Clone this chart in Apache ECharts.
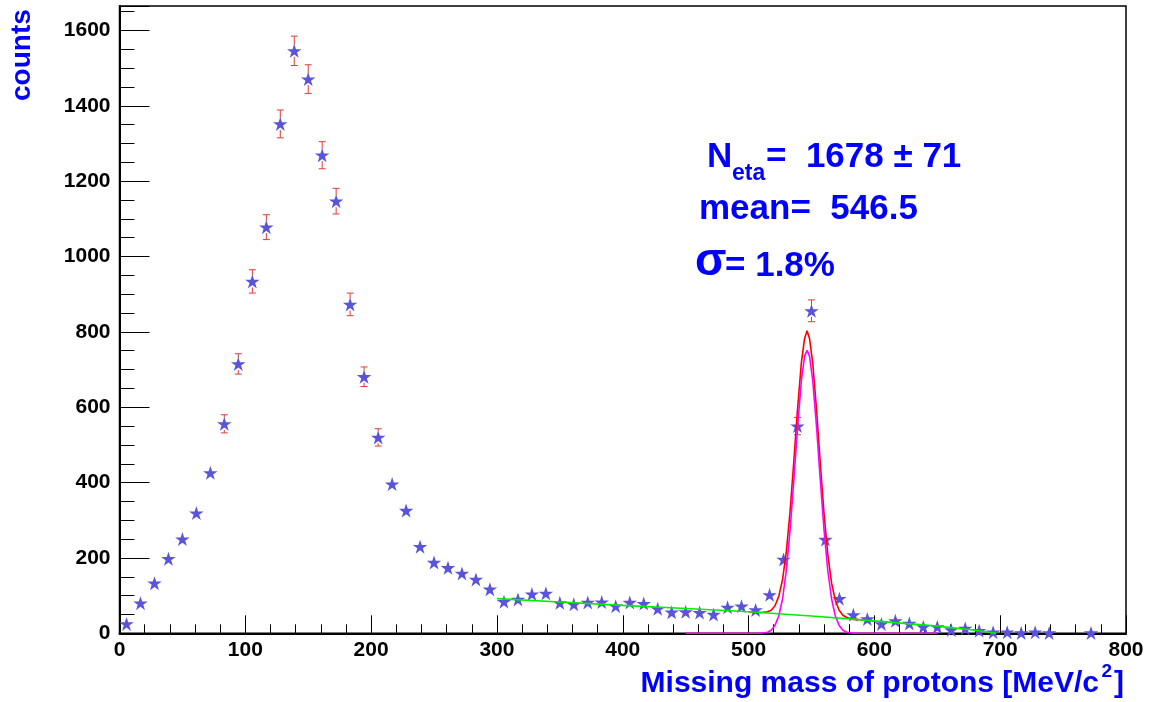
<!DOCTYPE html>
<html>
<head>
<meta charset="utf-8">
<script src="https://cdn.jsdelivr.net/npm/echarts@6/dist/echarts.min.js"></script>
<style>
html,body{margin:0;padding:0;background:#fff;}
#chart{width:1153px;height:702px;}
</style>
</head>
<body>
<div id="chart"></div>
<script>
// Histogram bin centres (MeV/c^2)
const massBins = [5.6, 16.7, 27.8, 38.9, 50, 61.1, 72.2, 83.3, 94.4, 105.6,
  116.7, 127.8, 138.9, 150, 161.1, 172.2, 183.3, 194.4, 205.6, 216.7,
  227.8, 238.9, 250, 261.1, 272.2, 283.3, 294.4, 305.6, 316.7, 327.8,
  338.9, 350, 361.1, 372.2, 383.3, 394.4, 405.6, 416.7, 427.8, 438.9,
  450, 461.1, 472.2, 483.3, 494.4, 505.6, 516.7, 527.8, 538.9, 550,
  561.1, 572.2, 583.3, 594.4, 605.6, 616.7, 627.8, 638.9, 650, 661.1,
  672.2, 683.3, 694.4, 705.6, 716.7, 727.8, 738.9, 750, 761.1, 772.2,
  783.3, 794.4];
// Counts per bin
const counts = [25, 80, 133, 198, 250, 319, 426, 556, 715, 934,
  1078, 1352, 1546, 1471, 1269, 1147, 873, 681, 520, 396,
  326, 230, 188, 174, 159, 143, 117, 84, 90, 104,
  106, 81, 77, 82, 83, 72, 82, 79, 65, 56,
  57, 55, 50, 69, 72, 62, 102, 196, 550, 856,
  249, 92, 49, 38, 25, 33, 26, 17, 17, 9,
  13, 7, 3, 3, 1, 3, 1, null, null, 1,
  null, null];
// Statistical errors per bin
const countErrors = [5, 9, 12, 14, 16, 18, 21, 24, 27, 31,
  33, 37, 39, 38, 36, 34, 30, 26, 23, 20,
  18, 15, 14, 13, 13, 12, 11, 9, 9, 10,
  10, 9, 9, 9, 9, 8, 9, 9, 8, 7,
  8, 7, 7, 8, 8, 8, 10, 14, 23, 29,
  16, 10, 7, 6, 5, 6, 5, 4, 4, 3,
  4, 3, 2, 2, 1, 2, 1, null, null, 1,
  null, null];
// Background fit (green)
const bgMass = [300, 350, 400, 450, 500, 550, 600, 650, 680, 697];
const bgCounts = [92, 83, 74, 66, 57, 46, 33, 19, 8, 0];
// Eta gaussian (magenta)
const etaMass = [450, 510, 515, 518, 521, 524, 527, 530, 533, 536, 539, 542, 544.5, 546.5, 548.5, 551, 554, 557, 560, 563, 566, 569, 572, 575, 578, 583, 650];
const etaCounts = [0, 0, 3, 8, 21, 46, 91, 166, 274, 408, 550, 671, 735, 751, 735, 671, 550, 408, 274, 166, 91, 46, 21, 8, 3, 0, 0];
// Total fit (red)
const totalMass = [500, 510, 515, 518, 521, 524, 527, 530, 533, 536, 539, 542, 544.5, 546.5, 548.5, 551, 554, 557, 560, 563, 566, 569, 572, 575, 578, 583, 590, 600];
const totalCounts = [57, 55, 57, 61, 73, 98, 142, 216, 324, 457, 598, 719, 782, 803, 782, 717, 595, 452, 317, 209, 133, 87, 61, 48, 42, 37, 36, 33];
// Axis ticks
const xRange = [0, 800];
const xMajor = 100, xMinor = 20;
const yRange = [0, 1665];
const yMajor = 200, yMinor = 50;

const FONT = '"Liberation Sans", Arial, Helvetica, sans-serif';
const BLUE = '#0000ff';

const pts = [], errPts = [];
massBins.forEach((m, i) => {
  if (counts[i] != null) {
    pts.push([m, counts[i]]);
    errPts.push([m, counts[i], countErrors[i]]);
  }
});
const pairs = (xs, ys) => xs.map((x, i) => [x, ys[i]]);

const STAR = 'path://M0,-100L22.45,-30.9L95.1,-30.9L36.3,11.8L58.8,80.9L0,38.2L-58.8,80.9L-36.3,11.8L-95.1,-30.9L-22.45,-30.9Z';

const chart = echarts.init(document.getElementById('chart'), null, {renderer: 'canvas'});
const tickLabel = {fontFamily: FONT, fontWeight: 'bold', fontSize: 21, color: '#000'};

chart.setOption({
  animation: false,
  backgroundColor: '#fff',
  grid: {left: 119.5, right: 27, top: 6, bottom: 68.7, show: true, borderColor: '#000', borderWidth: 1.5, backgroundColor: 'transparent'},
  xAxis: [
    {type: 'value', min: xRange[0], max: xRange[1], interval: xMajor,
     axisLine: {show: true, onZero: false, lineStyle: {color: '#000', width: 2}},
     axisTick: {show: true, inside: true, length: 18, lineStyle: {color: '#000', width: 1}},
     axisLabel: Object.assign({margin: 6}, tickLabel),
     splitLine: {show: false}},
    {type: 'value', min: xRange[0], max: xRange[1], interval: xMinor, position: 'bottom',
     axisLine: {show: false}, axisTick: {show: true, inside: true, length: 9, lineStyle: {color: '#000', width: 1}},
     axisLabel: {show: false}, splitLine: {show: false}}
  ],
  yAxis: [
    {type: 'value', min: yRange[0], max: yRange[1], interval: yMajor,
     axisLine: {show: true, onZero: false, lineStyle: {color: '#000', width: 2}},
     axisTick: {show: true, inside: true, length: 30, lineStyle: {color: '#000', width: 1}},
     axisLabel: Object.assign({margin: 9, formatter: v => (v % yMajor === 0 ? String(v) : '')}, tickLabel),
     splitLine: {show: false}},
    {type: 'value', min: yRange[0], max: yRange[1], interval: yMinor, position: 'left',
     axisLine: {show: false}, axisTick: {show: true, inside: true, length: 15, lineStyle: {color: '#000', width: 1}},
     axisLabel: {show: false}, splitLine: {show: false}}
  ],
  series: [
    {
      type: 'custom', name: 'errors', z: 2, clip: false,
      data: errPts,
      renderItem: function (params, api) {
        const x = api.value(0), y = api.value(1), e = api.value(2);
        const p = api.coord([x, y]);
        const t = api.coord([x, y + e]);
        const b = api.coord([x, y - e]);
        const d = p[1] - t[1];
        if (!(d > 8.2)) return null;
        const m = 6, c = 3.5;
        const st = {stroke: '#e03a3a', lineWidth: 1};
        return {type: 'group', children: [
          {type: 'line', shape: {x1: p[0], y1: t[1], x2: p[0], y2: p[1] - m}, style: st},
          {type: 'line', shape: {x1: p[0], y1: p[1] + m, x2: p[0], y2: b[1]}, style: st},
          {type: 'line', shape: {x1: p[0] - c, y1: t[1], x2: p[0] + c, y2: t[1]}, style: st},
          {type: 'line', shape: {x1: p[0] - c, y1: b[1], x2: p[0] + c, y2: b[1]}, style: st}
        ]};
      }
    },
    {
      type: 'scatter', name: 'counts', z: 3, clip: false,
      symbol: STAR, symbolSize: [14.5, 14],
      itemStyle: {color: '#5954d9', opacity: 1},
      emphasis: {disabled: true},
      data: pts
    },
    {type: 'line', name: 'total', z: 4, clip: false, showSymbol: false, symbol: 'none',
     lineStyle: {color: '#ff0000', width: 1.6}, data: pairs(totalMass, totalCounts)},
    {type: 'line', name: 'eta', z: 5, clip: false, showSymbol: false, symbol: 'none',
     lineStyle: {color: '#ff00ff', width: 1.6}, data: pairs(etaMass, etaCounts)},
    {type: 'line', name: 'background', z: 6, clip: false, showSymbol: false, symbol: 'none',
     lineStyle: {color: '#00ee00', width: 1.6}, data: pairs(bgMass, bgCounts)}
  ],
  graphic: [
    {type: 'text', x: 22, y: 101, rotation: Math.PI / 2,
     style: {text: 'counts', fill: BLUE, font: 'bold 28px ' + FONT, align: 'left', verticalAlign: 'middle'}},
    {type: 'text', x: 1099, y: 683.8,
     style: {text: 'Missing mass of protons [MeV/c', fill: BLUE, font: 'bold 30px ' + FONT, align: 'right', verticalAlign: 'middle'}},
    {type: 'text', x: 1101.5, y: 671.7,
     style: {text: '2', fill: BLUE, font: 'bold 19px ' + FONT, align: 'left', verticalAlign: 'middle'}},
    {type: 'text', x: 1114, y: 683.8,
     style: {text: ']', fill: BLUE, font: 'bold 30px ' + FONT, align: 'left', verticalAlign: 'middle'}},
    {type: 'text', x: 707, y: 157,
     style: {text: 'N', fill: BLUE, font: 'bold 35px ' + FONT, align: 'left', verticalAlign: 'middle'}},
    {type: 'text', x: 732, y: 173.7,
     style: {text: 'eta', fill: BLUE, font: 'bold 23px ' + FONT, align: 'left', verticalAlign: 'middle'}},
    {type: 'text', x: 766, y: 157,
     style: {text: '=  1678 \u00b1 71', fill: BLUE, font: 'bold 35px ' + FONT, align: 'left', verticalAlign: 'middle'}},
    {type: 'text', x: 699, y: 209.5,
     style: {text: 'mean=  546.5', fill: BLUE, font: 'bold 35px ' + FONT, align: 'left', verticalAlign: 'middle'}},
    {type: 'text', x: 695, y: 262.2,
     style: {text: '\u03c3', fill: BLUE, font: 'bold 46px ' + FONT, align: 'left', verticalAlign: 'middle'}},
    {type: 'text', x: 725, y: 266,
     style: {text: '= 1.8%', fill: BLUE, font: 'bold 35px ' + FONT, align: 'left', verticalAlign: 'middle'}}
  ]
});
</script>
</body>
</html>
